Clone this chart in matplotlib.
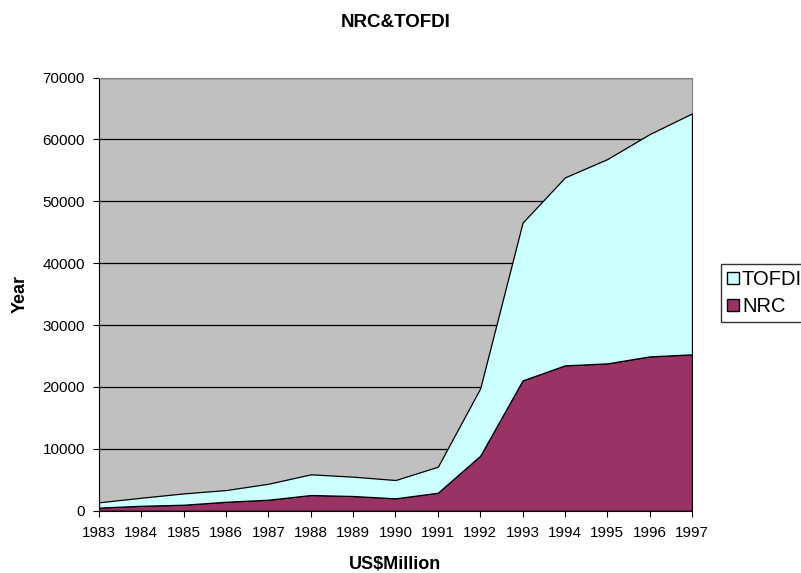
import numpy as np
import matplotlib.pyplot as plt
from matplotlib.patches import Patch

plt.rcParams['font.family'] = ['Liberation Sans', 'DejaVu Sans']

years = list(range(1983, 1998))
nrc = [500, 800, 970, 1450, 1780, 2540, 2380, 2000, 2910, 8890,
       21060, 23490, 23810, 24940, 25270]
tofdi = [860, 1300, 1830, 1890, 2580, 3340, 3120, 2960, 4200, 10880,
         25490, 30370, 33010, 35920, 38930]

fig = plt.figure(figsize=(8.01, 5.73), dpi=100)
ax = fig.add_axes([0.1236, 0.1087, 0.7403, 0.756])
ax.set_facecolor('#C0C0C0')

ax.stackplot(years, nrc, tofdi, colors=['#993366', '#CCFFFF'],
             edgecolor='black', linewidth=0.9, zorder=3)
ax.set_xlim(1983, 1997)
ax.set_ylim(0, 70000)
ax.set_yticks(np.arange(0, 70001, 10000))
ax.set_xticks(years)
ax.grid(axis='y', color='black', linewidth=0.9, zorder=1)
ax.set_axisbelow(True)
ax.tick_params(labelsize=11, direction='out', length=4, width=0.8)
ax.tick_params(axis='x', pad=7)
ax.tick_params(axis='y', pad=6)

for s in ['top', 'right']:
    ax.spines[s].set_color('#808080')
for s in ['left', 'bottom']:
    ax.spines[s].set_color('black')

fig.suptitle('NRC&TOFDI', x=0.4938, y=0.9616, va='center',
             fontsize=13.5, fontweight='bold')
ax.set_xlabel('US$Million', fontsize=13, fontweight='bold', va='center')
ax.xaxis.set_label_coords(0.5, -0.1253)
ax.set_ylabel('Year', fontsize=13, fontweight='bold', va='center')
ax.yaxis.set_label_coords(-0.1324, 0.5)

handles = [Patch(facecolor='#CCFFFF', edgecolor='black', label='TOFDI'),
           Patch(facecolor='#993366', edgecolor='black', label='NRC')]
fig.legend(handles=handles, loc='upper left', bbox_to_anchor=(0.8998, 0.5393),
           prop={'size': 14.5}, frameon=True, fancybox=False, edgecolor='black',
           handlelength=0.6, handleheight=0.6, handletextpad=0.15,
           borderpad=0.3, labelspacing=0.4, borderaxespad=0)

fig.savefig('out.png', dpi=100)
